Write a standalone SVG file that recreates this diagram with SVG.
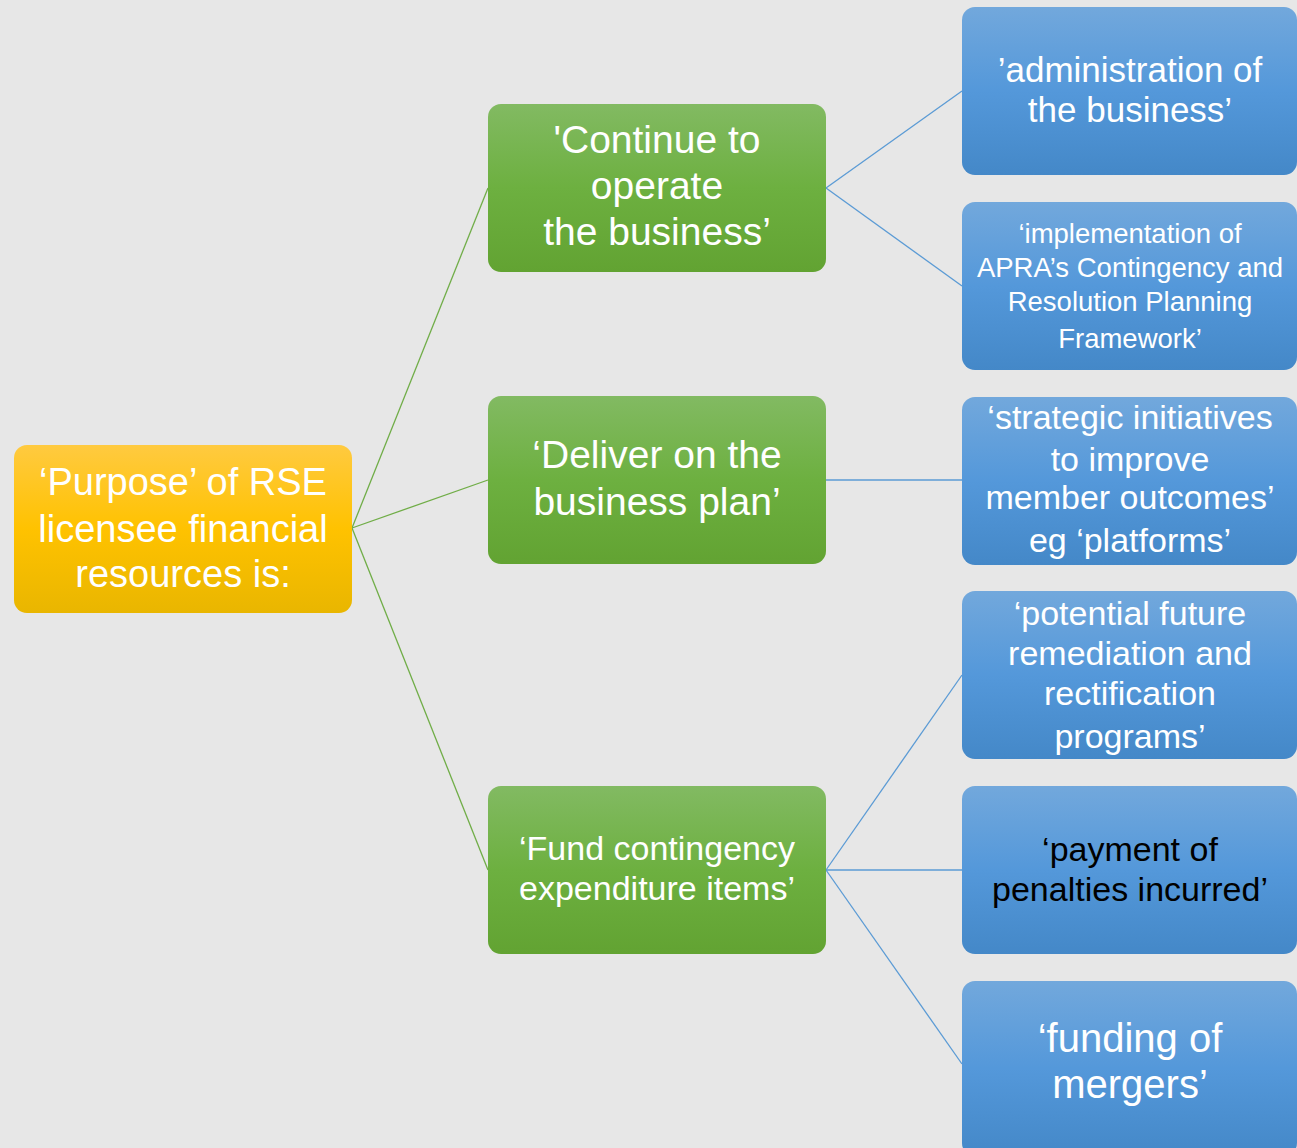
<svg xmlns="http://www.w3.org/2000/svg" width="1297" height="1148" viewBox="0 0 1297 1148">
<defs>
<linearGradient id="gY" x1="0" y1="0" x2="0" y2="1"><stop offset="0" stop-color="#ffca40"/><stop offset="0.5" stop-color="#ffc200"/><stop offset="1" stop-color="#e9b600"/></linearGradient>
<linearGradient id="gG" x1="0" y1="0" x2="0" y2="1"><stop offset="0" stop-color="#82ba62"/><stop offset="0.5" stop-color="#6db040"/><stop offset="1" stop-color="#62a332"/></linearGradient>
<linearGradient id="gB" x1="0" y1="0" x2="0" y2="1"><stop offset="0" stop-color="#72a8dc"/><stop offset="0.5" stop-color="#5498da"/><stop offset="1" stop-color="#4488c8"/></linearGradient>
<style>
text{font-family:"Liberation Sans",Arial,sans-serif;fill:#fff;text-anchor:middle}
.y{fill:url(#gY)}
.g{fill:url(#gG)}
.b{fill:url(#gB)}
.lg{stroke:#70ad47;stroke-width:1.3;fill:none}
.lb{stroke:#5b9bd5;stroke-width:1.3;fill:none}
.dk{fill:#000}
</style>
</defs>
<rect width="1297" height="1148" fill="#e7e7e7"/>
<g id="connectors">
<line class="lg" x1="352" y1="528" x2="488" y2="188"/>
<line class="lg" x1="352" y1="528" x2="488" y2="480"/>
<line class="lg" x1="352" y1="528" x2="488" y2="870"/>
<line class="lb" x1="826" y1="188" x2="962" y2="91"/>
<line class="lb" x1="826" y1="188" x2="962" y2="286"/>
<line class="lb" x1="826" y1="480" x2="962" y2="480"/>
<line class="lb" x1="826" y1="870" x2="962" y2="675"/>
<line class="lb" x1="826" y1="870" x2="962" y2="870"/>
<line class="lb" x1="826" y1="870" x2="962" y2="1064"/>
</g>
<g id="root">
<rect class="y" x="14" y="445" width="338" height="168" rx="13"/>
<text font-size="38"><tspan x="183" y="495">‘Purpose’ of RSE</tspan><tspan x="183" y="542">licensee financial</tspan><tspan x="183" y="587">resources is:</tspan></text>
</g>
<g id="continue">
<rect class="g" x="488" y="104" width="338" height="168" rx="13"/>
<text font-size="39"><tspan x="657" y="153">'Continue to</tspan><tspan x="657" y="199">operate</tspan><tspan x="657" y="245">the business’</tspan></text>
</g>
<g id="deliver">
<rect class="g" x="488" y="396" width="338" height="168" rx="13"/>
<text font-size="39"><tspan x="657" y="468">‘Deliver on the</tspan><tspan x="657" y="515">business plan’</tspan></text>
</g>
<g id="fund">
<rect class="g" x="488" y="786" width="338" height="168" rx="13"/>
<text font-size="34"><tspan x="657" y="860">‘Fund contingency</tspan><tspan x="657" y="900">expenditure items’</tspan></text>
</g>
<g id="admin">
<rect class="b" x="962" y="7" width="335" height="168" rx="13"/>
<text font-size="35"><tspan x="1130" y="82">’administration of</tspan><tspan x="1130" y="122">the business’</tspan></text>
</g>
<g id="apra">
<rect class="b" x="962" y="202" width="335" height="168" rx="13"/>
<text font-size="27.5"><tspan x="1130" y="243">‘implementation of</tspan><tspan x="1130" y="277">APRA’s Contingency and</tspan><tspan x="1130" y="311">Resolution Planning</tspan><tspan x="1130" y="348">Framework’</tspan></text>
</g>
<g id="strategic">
<rect class="b" x="962" y="397" width="335" height="168" rx="13"/>
<text font-size="34"><tspan x="1130" y="429">‘strategic initiatives</tspan><tspan x="1130" y="471">to improve</tspan><tspan x="1130" y="509">member outcomes’</tspan><tspan x="1130" y="552">eg ‘platforms’</tspan></text>
</g>
<g id="remediation">
<rect class="b" x="962" y="591" width="335" height="168" rx="13"/>
<text font-size="34"><tspan x="1130" y="625">‘potential future</tspan><tspan x="1130" y="665">remediation and</tspan><tspan x="1130" y="705">rectification</tspan><tspan x="1130" y="748">programs’</tspan></text>
</g>
<g id="penalties">
<rect class="b" x="962" y="786" width="335" height="168" rx="13"/>
<text class="dk" font-size="34"><tspan x="1130" y="861">‘payment of</tspan><tspan x="1130" y="901">penalties incurred’</tspan></text>
</g>
<g id="mergers">
<rect class="b" x="962" y="981" width="335" height="175" rx="13"/>
<text font-size="40"><tspan x="1130" y="1052">‘funding of</tspan><tspan x="1130" y="1098">mergers’</tspan></text>
</g>
</svg>
